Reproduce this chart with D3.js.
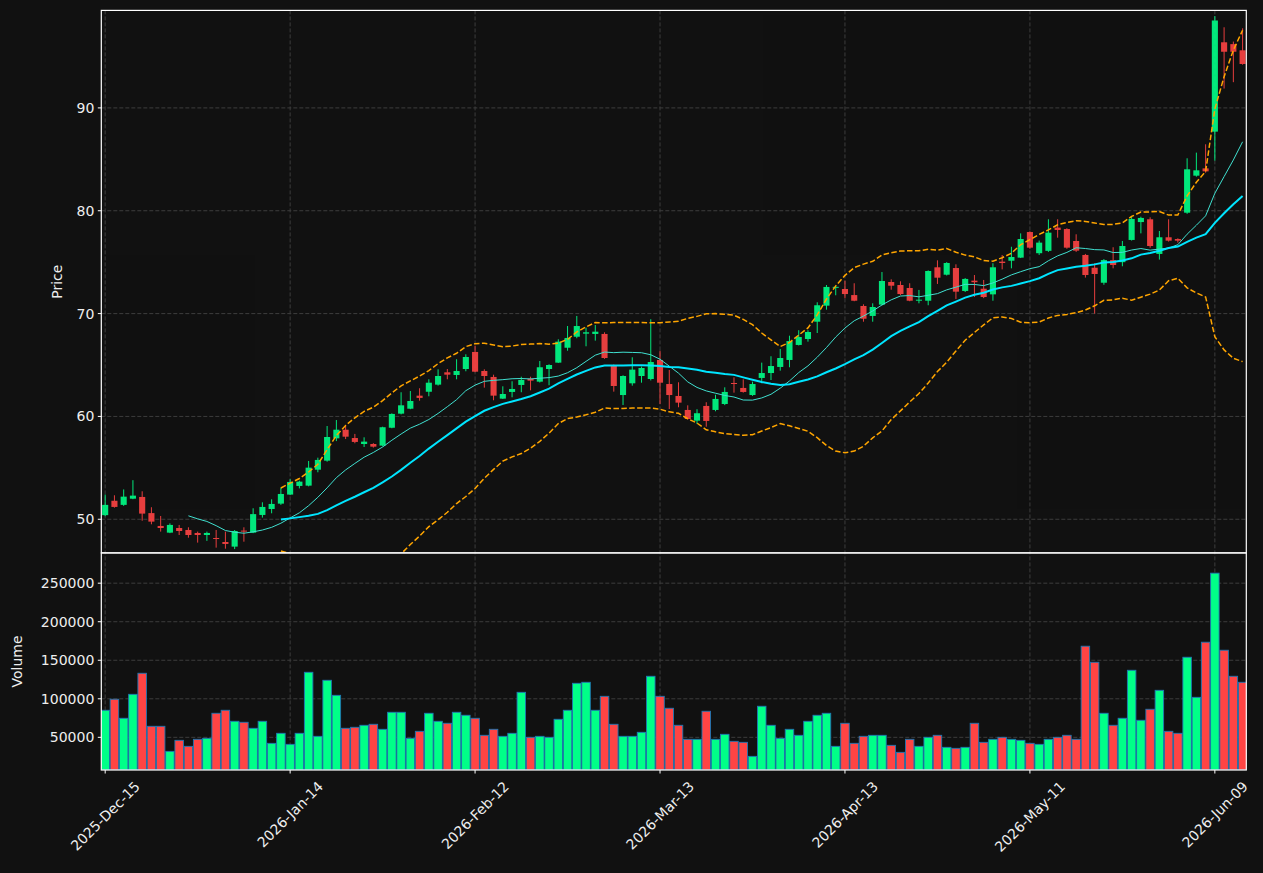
<!DOCTYPE html>
<html>
<head>
<meta charset="utf-8">
<script src="https://cdn.jsdelivr.net/npm/d3@7"></script>
<style>
  html, body { margin: 0; padding: 0; background: #111111; }
  svg { display: block; font-family: "DejaVu Sans", sans-serif; }
</style>
</head>
<body>
<svg id="chart" width="1263" height="873"></svg>
<script>
// OHLCV, one entry per trading day (index 0..123)
const opens = [50.4,51.8,51.4,52.0,52.17,50.6,49.35,48.7,49.15,48.96,
  48.67,48.47,48.18,47.79,47.34,48.9,48.7,50.42,51.0,51.52,
  52.4,53.24,53.27,54.82,55.7,57.87,58.71,57.9,57.32,57.32,
  57.16,58.9,60.27,60.75,62.02,62.4,63.09,64.29,64.03,64.61,
  66.27,64.42,63.84,61.73,62.38,63.06,63.67,63.38,64.61,65.23,
  66.68,67.75,68.05,68.02,68.02,64.97,62.08,63.22,63.93,63.64,
  65.49,63.15,61.99,60.63,59.59,61.02,60.63,61.21,63.25,62.77,
  62.08,63.74,64.22,64.81,65.49,66.95,67.53,69.21,70.77,72.57,
  72.39,71.8,70.74,69.77,70.87,73.07,72.78,72.49,71.3,71.25,
  74.5,73.78,74.43,72.2,73.2,72.42,71.87,75.05,75.14,75.44,
  77.93,75.87,76.1,78.36,78.22,77.06,75.7,74.46,73.0,75.2,
  75.0,77.16,78.9,79.17,75.8,77.42,77.25,79.81,83.41,84.12,
  87.69,96.38,96.2,95.6];
const highs = [52.4,52.33,52.9,53.8,52.72,51.17,50.32,49.6,49.45,49.22,
  48.8,48.8,48.96,48.8,48.95,49.22,51.07,51.65,51.94,53.07,
  53.9,53.75,55.67,55.99,59.07,59.65,59.17,58.3,57.97,57.4,
  59.0,60.3,62.35,62.47,62.74,63.61,64.58,64.61,65.56,66.04,
  66.88,64.58,64.06,62.93,63.42,63.86,63.86,65.39,65.07,67.5,
  68.79,69.77,68.63,68.89,68.18,65.05,64.0,65.75,64.84,69.45,
  66.39,64.52,63.32,61.08,60.7,61.38,62.11,62.83,63.8,63.61,
  63.38,65.23,65.85,66.56,67.85,68.38,68.38,71.1,72.78,72.62,
  73.2,72.95,70.9,71.0,74.04,73.33,73.14,72.95,72.3,74.2,
  75.18,75.0,74.79,73.45,73.75,73.27,74.89,75.69,76.5,77.8,
  78.0,77.1,79.17,79.17,78.3,77.71,75.8,74.89,75.3,76.45,
  77.06,79.49,79.42,79.36,78.03,79.17,77.32,85.1,85.65,86.46,
  98.93,97.84,96.45,97.74];
const lows = [50.3,51.13,51.3,51.95,49.86,49.51,48.8,48.65,48.47,48.21,
  47.73,47.9,47.24,47.14,47.1,47.82,48.65,50.16,50.58,51.4,
  52.35,53.0,53.2,54.57,55.6,57.6,57.8,57.39,57.03,56.97,
  57.1,58.85,60.2,60.7,61.53,61.96,63.0,63.61,63.61,64.39,
  64.3,62.8,61.57,61.7,61.86,62.35,62.54,63.3,63.03,65.2,
  66.39,67.6,66.82,67.37,65.6,62.41,61.11,62.99,63.28,63.5,
  61.21,60.72,60.89,59.7,59.27,59.0,60.5,61.1,62.31,62.31,
  62.0,63.22,63.54,64.45,64.78,66.9,67.27,68.11,70.38,71.78,
  71.49,71.2,69.21,69.21,70.8,72.32,71.8,71.2,71.0,70.81,
  72.88,73.7,71.42,72.1,71.62,71.5,71.25,74.3,74.4,75.4,
  76.3,75.7,76.0,77.38,76.3,76.0,73.5,70.0,72.8,74.4,
  74.6,77.1,77.8,76.4,75.25,77.0,76.9,79.7,83.31,83.7,
  84.87,91.88,92.5,94.2];
const closes = [51.4,51.2,52.2,52.3,50.55,49.77,49.15,49.45,48.86,48.47,
  48.47,48.67,48.1,47.6,48.86,48.8,50.5,51.2,51.49,52.46,
  53.63,53.66,55.02,55.77,58.0,58.71,58.03,57.52,57.55,57.06,
  58.95,60.24,61.08,61.5,61.8,63.28,63.93,64.06,64.42,65.78,
  64.35,63.93,62.02,62.18,62.67,63.55,63.48,64.78,65.0,67.27,
  67.63,68.79,68.18,68.24,65.68,62.96,63.93,64.55,64.71,65.29,
  63.28,62.08,61.34,59.75,60.31,59.56,61.7,62.38,63.19,62.38,
  63.15,64.22,64.9,65.68,67.33,67.72,68.21,70.81,72.59,72.6,
  71.9,71.25,69.5,70.64,73.17,72.71,71.9,71.25,71.35,74.14,
  73.49,74.92,72.13,73.37,73.05,71.61,74.5,74.92,75.5,77.25,
  76.41,76.9,77.87,78.13,76.41,76.12,73.75,73.85,75.2,74.72,
  76.57,79.2,79.3,76.57,77.42,77.09,77.09,84.03,83.93,83.83,
  98.5,95.46,95.46,94.27];
const volumes = [85100,99400,74700,105800,133100,64300,64300,31800,46100,38300,
  47400,48700,81200,85100,70800,69500,61700,70800,42200,55200,
  40900,55200,134400,51300,124000,104500,61700,63000,65600,66900,
  60400,82500,82500,48700,57800,81200,70800,68200,82500,78600,
  74700,52600,60400,51300,55200,108400,50000,51300,50000,73400,
  85100,120100,121400,85100,103200,66900,51300,51300,56500,129200,
  103200,87700,65600,47400,47400,83800,47400,53900,44800,43500,
  25300,90300,65600,48700,60400,52600,70800,78600,81200,38300,
  68200,42200,51300,52600,52600,39600,30500,47400,38300,50000,
  52600,37000,35700,37000,68200,43500,47400,50000,47400,46100,
  42200,40900,47400,50000,52600,47400,168200,147400,81200,65600,
  74700,137000,72100,86400,111000,57800,55200,153900,101900,173400,
  263000,163000,129200,121400];

const tickIndex = [0, 20, 40, 60, 80, 100, 120];
const tickLabels = ["2025-Dec-15", "2026-Jan-14", "2026-Feb-12", "2026-Mar-13",
  "2026-Apr-13", "2026-May-11", "2026-Jun-09"];
const priceTicks = [50, 60, 70, 80, 90];
const volumeTicks = [50000, 100000, 150000, 200000, 250000];

const upColor = "#00ff88", downColor = "#ff4444";
const textColor = "#eeeeee", gridColor = "#3d3d3d";

const left = 101.3, right = 1246.3;
const pTop = 10.4, pBottom = 552.9, vBottom = 770;

const svg = d3.select("#chart");
const n = closes.length;
const idx = d3.range(n);

const x = d3.scaleLinear().domain([-0.42, n - 1 + 0.4]).range([left, right]);
const y = d3.scaleLinear().domain([46.73, 99.48]).range([pBottom, pTop]);
const yv = d3.scaleLinear()
    .domain([d3.min(volumes) * 0.3, d3.max(volumes) * 1.1])
    .range([vBottom, pBottom]);
const step = x(1) - x(0);

// rolling stats on closes
function rolling(n2, fn) {
    return closes.map((_, i) => i < n2 - 1 ? null : fn(closes.slice(i - n2 + 1, i + 1)));
}
const ma10 = rolling(10, d3.mean);
const ma20 = rolling(20, d3.mean);
const sd20 = rolling(20, d3.deviation);
const bbUp = ma20.map((m, i) => m == null ? null : m + 2 * sd20[i]);
const bbLo = ma20.map((m, i) => m == null ? null : m - 2 * sd20[i]);

svg.append("rect").attr("width", 1263).attr("height", 873).attr("fill", "#111111");

const defs = svg.append("defs");
defs.append("clipPath").attr("id", "clipP").append("rect")
    .attr("x", left).attr("y", pTop).attr("width", right - left).attr("height", pBottom - pTop);
defs.append("clipPath").attr("id", "clipV").append("rect")
    .attr("x", left).attr("y", pBottom).attr("width", right - left).attr("height", vBottom - pBottom);

// grid
const grid = svg.append("g").attr("stroke", gridColor).attr("stroke-width", 1)
    .attr("stroke-dasharray", "4,2").attr("fill", "none");
tickIndex.forEach(t => {
    grid.append("line").attr("x1", x(t)).attr("x2", x(t)).attr("y1", pTop).attr("y2", vBottom);
});
priceTicks.forEach(t => {
    grid.append("line").attr("x1", left).attr("x2", right).attr("y1", y(t)).attr("y2", y(t));
});
volumeTicks.forEach(t => {
    grid.append("line").attr("x1", left).attr("x2", right).attr("y1", yv(t)).attr("y2", yv(t));
});

// candles
const candles = svg.append("g").attr("clip-path", "url(#clipP)").attr("opacity", 0.9);
candles.selectAll(".wick").data(idx).enter().append("line")
    .attr("x1", i => x(i)).attr("x2", i => x(i))
    .attr("y1", i => y(highs[i])).attr("y2", i => y(lows[i]))
    .attr("stroke", i => closes[i] >= opens[i] ? upColor : downColor)
    .attr("stroke-width", 1);
candles.selectAll(".body").data(idx).enter().append("rect")
    .attr("x", i => x(i) - step * 0.33)
    .attr("width", step * 0.66)
    .attr("y", i => y(Math.max(opens[i], closes[i])))
    .attr("height", i => Math.max(1, Math.abs(y(opens[i]) - y(closes[i]))))
    .attr("fill", i => closes[i] >= opens[i] ? upColor : downColor);

// moving averages and bands
function drawLine(vals, color, width, dash) {
    const line = d3.line()
        .defined(i => vals[i] != null)
        .x(i => x(i)).y(i => y(vals[i]));
    svg.append("path").datum(idx)
        .attr("clip-path", "url(#clipP)")
        .attr("d", line)
        .attr("fill", "none")
        .attr("stroke", color)
        .attr("stroke-width", width)
        .attr("stroke-dasharray", dash || null);
}
drawLine(ma10, "#40e0d0", 1);
drawLine(ma20, "#00e5ff", 2);
drawLine(bbUp, "#ffa500", 1.5, "5.5,2.4");
drawLine(bbLo, "#ffa500", 1.5, "5.5,2.4");

// volume bars
svg.append("g").attr("clip-path", "url(#clipV)")
  .selectAll("rect").data(idx).enter().append("rect")
    .attr("x", i => x(i) - step * 0.46)
    .attr("width", step * 0.92)
    .attr("y", i => yv(volumes[i]))
    .attr("height", i => vBottom - yv(volumes[i]))
    .attr("fill", i => closes[i] >= opens[i] ? upColor : downColor)
    .attr("stroke", "#1f77b4")
    .attr("stroke-width", 0.9);

// frames
const frame = svg.append("g").attr("fill", "none").attr("stroke", "#ffffff").attr("stroke-width", 1.2);
frame.append("rect").attr("x", left).attr("y", pTop).attr("width", right - left).attr("height", pBottom - pTop);
frame.append("rect").attr("x", left).attr("y", pBottom).attr("width", right - left).attr("height", vBottom - pBottom);

// y axes
const axes = svg.append("g");
priceTicks.forEach(t => {
    axes.append("line").attr("x1", left - 3.5).attr("x2", left).attr("y1", y(t)).attr("y2", y(t))
        .attr("stroke", "#ffffff");
    axes.append("text").attr("x", left - 7).attr("y", y(t)).attr("dy", "0.36em")
        .attr("text-anchor", "end").attr("font-size", 14).attr("fill", textColor).text(t);
});
volumeTicks.forEach(t => {
    axes.append("line").attr("x1", left - 3.5).attr("x2", left).attr("y1", yv(t)).attr("y2", yv(t))
        .attr("stroke", "#ffffff");
    axes.append("text").attr("x", left - 7).attr("y", yv(t)).attr("dy", "0.36em")
        .attr("text-anchor", "end").attr("font-size", 14).attr("fill", textColor).text(t);
});
axes.append("text").attr("transform", `translate(57,${(pTop + pBottom) / 2}) rotate(-90)`)
    .attr("text-anchor", "middle").attr("dy", "0.36em").attr("font-size", 14)
    .attr("fill", textColor).text("Price");
axes.append("text").attr("transform", `translate(17,${(pBottom + vBottom) / 2}) rotate(-90)`)
    .attr("text-anchor", "middle").attr("dy", "0.36em").attr("font-size", 14)
    .attr("fill", textColor).text("Volume");

// x axis, labels rotated 45 and centred under the tick
tickIndex.forEach((t, k) => {
    axes.append("line").attr("x1", x(t)).attr("x2", x(t)).attr("y1", vBottom).attr("y2", vBottom + 3.5)
        .attr("stroke", "#ffffff");
    const label = axes.append("text").attr("text-anchor", "middle").attr("dy", "0.36em")
        .attr("font-size", 14).attr("fill", textColor).text(tickLabels[k]);
    const w = label.node().getComputedTextLength();
    const half = (w + 14) * Math.SQRT1_2 / 2;
    label.attr("transform", `translate(${x(t)},${vBottom + 9 + half}) rotate(-45)`);
});
</script>
</body>
</html>
